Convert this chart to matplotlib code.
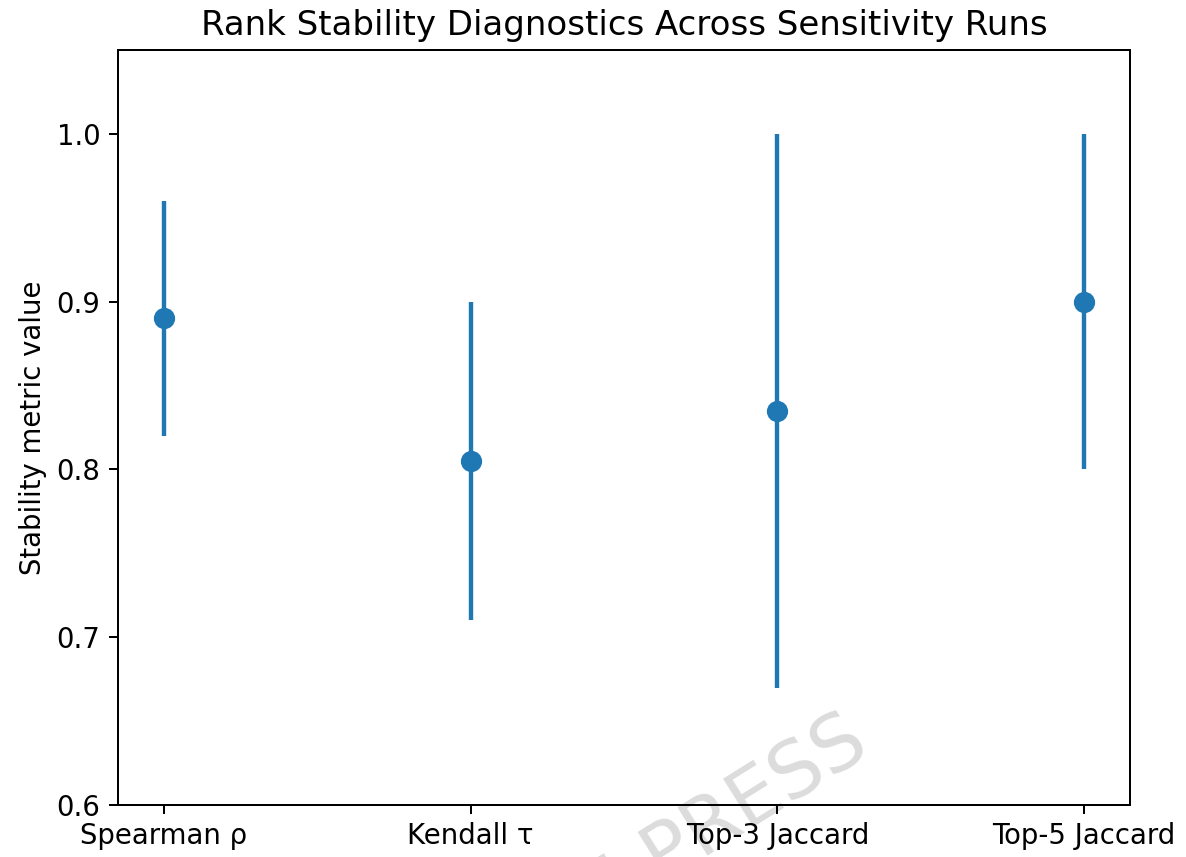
import matplotlib
matplotlib.use('Agg')
import matplotlib.pyplot as plt

# Stability metrics: point estimate with min/max across sensitivity runs
metrics = ['Spearman ρ', 'Kendall τ', 'Top-3 Jaccard', 'Top-5 Jaccard']
centers = [0.89, 0.805, 0.835, 0.90]
lows = [0.82, 0.71, 0.67, 0.80]
highs = [0.96, 0.90, 1.00, 1.00]

dpi = 180
fig = plt.figure(figsize=(1186 / dpi, 857 / dpi), dpi=dpi)
ax = fig.add_axes([118 / 1186, 1 - 805 / 857, (1130 - 118) / 1186, (805 - 50) / 857])

x = list(range(len(metrics)))
yerr = [[c - lo for c, lo in zip(centers, lows)],
        [hi - c for c, hi in zip(centers, highs)]]
ax.errorbar(x, centers, yerr=yerr, fmt='o', color='#1f77b4',
            markersize=7.5, elinewidth=1.75, capsize=0)

ax.set_xticks(x)
ax.set_xticklabels(metrics, fontsize=11)
ax.set_ylim(0.6, 1.05)
ax.set_yticks([0.6, 0.7, 0.8, 0.9, 1.0])
ax.tick_params(axis='y', labelsize=11)
ax.set_ylabel('Stability metric value', fontsize=11)
ax.set_title('Rank Stability Diagnostics Across Sensitivity Runs', fontsize=13.6)

# faint watermark, behind tick labels
ax.text(0.5995, 0.034, 'IN PRESS', fontsize=31, color='#dcdcdc',
        rotation=32, ha='center', va='center', zorder=0.5,
        transform=fig.transFigure, clip_on=False)

fig.savefig('out.png', dpi=dpi)
